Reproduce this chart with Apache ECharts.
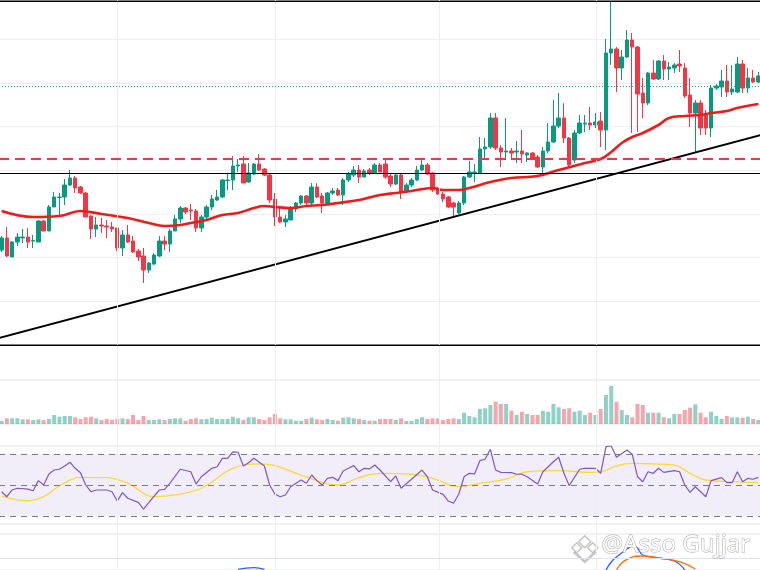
<!DOCTYPE html>
<html>
<head>
<meta charset="utf-8">
<style>
  html, body { margin: 0; padding: 0; background: #fff; }
  #chart { width: 760px; height: 570px; }
</style>
<script src="https://cdn.jsdelivr.net/npm/echarts@6/dist/echarts.min.js"></script>
</head>
<body>
<div id="chart"></div>
<script>
// price candles, [open, close, low, high]
const candles = [
  [95, 107, 93, 109], [107, 89, 88, 118], [88, 103, 88, 104], [103, 108, 99, 112], [107, 108, 102, 116],
  [108, 103, 97, 117], [104, 104.5, 97, 110], [103, 124, 103, 125], [124, 114, 114, 125], [114, 138, 114, 140],
  [138, 148, 138, 153], [147.5, 148, 129, 152], [148, 160, 140, 166], [160, 167, 159, 175], [167, 157, 152, 169],
  [158, 152, 151, 159], [152, 128, 128, 153], [129, 116, 106, 130], [116, 120, 108, 128], [120, 119, 112, 127],
  [119, 118, 107, 125], [118, 116, 113, 123], [117, 97, 94, 117], [97, 110, 89, 115], [110, 103, 102, 120],
  [104, 93, 92, 109], [94, 88, 84, 96], [89, 75, 62, 97], [75, 82, 72, 83], [81, 90, 80, 92],
  [89, 104, 88, 109], [104, 101, 95, 109], [101, 114, 93, 116], [114, 126, 114, 130], [126, 137, 122, 139],
  [137, 133, 131, 138], [135, 134, 125, 141], [134, 117, 113, 136], [117, 128, 113, 130], [128, 138, 125, 140],
  [138, 146, 135, 150], [145, 148, 144, 155], [148, 165, 147, 166], [164.5, 165, 155, 172], [165, 179, 155, 189],
  [179, 180, 173, 186], [181, 162, 162, 189], [163, 172, 162, 182], [171, 181, 170, 182], [181, 175, 174, 191],
  [176, 170, 169, 177], [170, 145, 142, 172], [146, 128, 119, 152], [128, 123, 122, 138], [123, 126, 118, 130],
  [125, 137, 125, 139], [136, 142, 133, 143], [142, 149, 140, 150], [149, 142, 140, 150], [142, 158, 140, 162],
  [158, 148, 147, 162], [149, 142, 132, 152], [142, 152, 140, 153], [152, 154, 150, 157], [155, 150, 149, 157],
  [150, 165, 140, 167], [165, 171, 163, 173], [170, 175, 168, 179], [175, 168, 162, 180], [168, 174, 168, 176],
  [175, 172, 170, 177], [172, 180, 171, 182], [180, 173, 173, 182], [181, 168, 166, 187], [169, 161, 158, 172],
  [161, 170, 160, 172], [170, 153, 146, 172], [153, 160, 152, 162], [160, 165, 158, 167], [165, 175, 164, 179],
  [175, 180, 174, 185], [180, 171, 170, 182], [172, 155, 153, 173], [155, 151, 150, 158], [151, 146, 143, 153],
  [148, 138, 137, 149], [142, 138, 127, 143], [132, 142, 131, 144], [142, 168, 140, 169], [168, 173, 167, 184],
  [172, 173, 163, 181], [172, 196, 172, 208], [196, 198, 187, 207], [198, 227, 196, 232], [227, 197, 195, 232],
  [197, 193, 178, 200], [193, 194, 185, 227], [194, 192, 185, 197], [193, 194, 182, 204], [194, 191, 182, 215],
  [190, 192, 183, 193], [192, 187, 185, 193], [188, 178, 177, 190], [178, 194, 170, 198], [194, 203, 192, 222],
  [203, 219, 202, 245], [219, 227, 217, 252], [227, 207, 202, 242], [207, 180, 178, 208], [185, 212, 182, 215],
  [212, 222, 211, 230], [221, 222, 213, 230], [222, 220, 215, 238], [220, 223, 217, 232], [224, 215, 198, 233],
  [215, 292, 195, 306], [292, 296, 280, 344], [296, 277, 253, 298], [277, 288, 265, 295], [288, 305, 287, 315],
  [305, 298, 212, 312], [298, 251, 213, 299], [252, 242, 227, 267], [242, 272, 240, 273], [272, 266, 265, 285],
  [266, 284, 265, 285], [284, 276, 265, 290], [276, 278, 265, 283], [277, 280, 272, 282], [281, 279, 273, 295],
  [277, 249, 247, 282], [250, 232, 218, 267], [232, 242, 192, 245], [242, 217, 210, 245], [230, 217, 210, 235],
  [217, 257, 208, 260], [257, 259, 255, 261], [258, 264, 248, 275], [264, 253, 248, 280], [253, 256, 250, 280],
  [253, 281, 252, 288], [281, 257, 252, 285], [257, 267, 252, 277], [267, 263, 262, 275], [263, 269, 262, 273],
];

const volumes = [
  30, 57, 57, 57, 47, 47, 40, 47, 40, 50, 90, 73, 80, 80, 67, 50, 67, 73, 57, 40,
  50, 40, 50, 57, 50, 90, 40, 80, 40, 40, 47, 40, 50, 57, 57, 33, 50, 57, 47, 50,
  63, 50, 50, 50, 73, 57, 40, 67, 67, 50, 40, 67, 100, 57, 47, 47, 33, 33, 50, 63,
  47, 40, 50, 40, 33, 63, 67, 57, 50, 40, 33, 33, 50,
  50, 50, 40, 57, 30, 30, 50, 67, 50, 57, 57, 40, 50, 57, 50, 113, 80, 67, 150, 157,
  190, 223, 200, 200, 133, 90, 123, 100, 90, 90, 133, 123, 200, 167, 150, 157, 123, 133, 90, 113,
  90, 150, 290, 380, 223, 140, 90, 67, 200, 190, 113, 113, 113, 67, 57, 100, 100, 140, 163, 197,
  113, 67, 123, 80, 50, 80, 67, 67, 63, 73, 50, 40,
];

// moving average, [candle index, price]
const maLine = [
  [0, 134], [6, 128], [11, 129], [15, 134], [19, 131], [24, 127], [28, 122], [31, 119], [34, 120], [36, 122],
  [39, 125], [42, 130], [45, 132], [48, 137], [50, 139], [52, 138], [55, 137], [58, 139], [61, 140], [64, 142],
  [68, 145], [72, 150], [75, 152], [78, 154], [82, 157], [84, 155], [87, 155], [89, 157], [91, 160], [93, 163],
  [97, 167], [102, 169], [106, 175], [111, 182], [114, 186], [116, 193], [118, 202], [120, 208], [122, 212],
  [125, 220], [127, 227], [130, 229], [133, 230], [135, 232], [138, 234], [140, 237], [144, 241],
];

const rsiLine = [
  [0, 45.7], [1, 42.5], [2, 46.8], [3, 47.9], [5, 47.4], [6, 46.3], [7, 52.8], [8, 50.0], [9, 57.1], [10, 59.6],
  [11, 60.1], [12, 62.2], [13, 64.6], [14, 60.7], [15, 57.9], [16, 50.0], [17, 45.7], [18, 46.8], [20, 46.8],
  [21, 45.7], [22, 39.7], [23, 45.1], [24, 41.5], [26, 38.9], [27, 34.6], [28, 38.7], [30, 46.8], [31, 47.2],
  [32, 51.1], [34, 60.1], [36, 58.5], [37, 50.6], [38, 55.3], [40, 60.7], [41, 61.7], [42, 67.1], [43, 67.1],
  [44, 71.2], [45, 71.0], [46, 62.2], [47, 64.3], [48, 67.1], [50, 62.2], [51, 50.0], [52, 44.2], [53, 42.5],
  [54, 43.6], [55, 48.9], [57, 53.2], [58, 51.1], [59, 56.4], [60, 52.8], [61, 50.0], [62, 54.3], [63, 54.9],
  [64, 52.8], [65, 59.0], [66, 60.7], [67, 62.4], [68, 58.5], [69, 60.7], [70, 60.3], [71, 62.8], [72, 59.6],
  [74, 52.1], [75, 55.8], [76, 47.9], [78, 53.7], [80, 59.6], [81, 55.3], [82, 46.8], [84, 44.0], [85, 39.7],
  [86, 38.3], [87, 44.2], [88, 55.3], [89, 57.5], [90, 57.1], [91, 65.6], [92, 66.5], [93, 72.9], [94, 59.6],
  [95, 58.1], [97, 57.9], [98, 56.9], [99, 56.9], [100, 55.3], [102, 50.6], [103, 58.5], [105, 64.9], [106, 67.8],
  [107, 57.5], [108, 49.6], [110, 60.1], [111, 60.7], [113, 60.7], [114, 57.5], [115, 74.6], [116, 75.0],
  [117, 67.8], [119, 72.4], [120, 69.7], [121, 55.3], [122, 52.1], [123, 58.5], [124, 57.5], [125, 60.7],
  [126, 58.1], [128, 59.2], [129, 58.5], [130, 50.0], [131, 45.3], [132, 48.9], [134, 42.5], [135, 52.8],
  [137, 54.7], [138, 51.5], [139, 51.5], [140, 58.5], [141, 52.1], [142, 54.3], [143, 53.7], [144, 54.9],
];

const rsiAvg = [
  [0, 42.9], [5, 39.9], [8, 42.5], [11, 49.4], [15, 54.9], [20, 54.7], [24, 51.1], [29, 42.5], [33, 43.6],
  [38, 47.9], [44, 60.7], [49, 63.5], [52, 62.4], [57, 56.4], [64, 50.0], [68, 54.7], [72, 57.5], [78, 56.9],
  [82, 54.3], [87, 48.9], [91, 51.1], [96, 53.7], [100, 58.5], [106, 59.2], [112, 58.1], [114, 58.5],
  [117, 62.2], [120, 63.9], [124, 63.5], [128, 62.8], [131, 57.5], [134, 53.2], [139, 52.1], [144, 51.5],
];

// only the tops of the macd curves show at the bottom edge
const macdLeft = [[45, 0.7], [48, 2.3], [50, 0.7]];
const macdRight = [[115, 0], [116, 8], [117, 13], [119, 21], [120, 24], [121, 22], [122, 15], [125, 12], [128, 9], [130, 0]];
const signalRight = [[117, 0], [119, 10.7], [122, 14], [125, 12], [129, 8.3], [132, 1]];

const trendLine = [[0, 7], [1, 210]];
const priceRange = [0, 344];
const resistance = 172;
const breakoutLevel = 186;
const lastPrice = 259;
const rsiLevels = [70, 50, 30];
const macdGridLevel = 12;
const vGridAt = [22.45, 52.5, 83.7, 113.6];
const watermark = "@Asso Gujjar";

const UP = "#089981";
const DOWN = "#f23645";
const GRID = "#eceef3";

const days = candles.map((c, i) => String(i + 1));

const volData = volumes.map(function (v, i) {
  const up = candles[i][1] >= candles[i][0];
  return {
    value: v,
    itemStyle: { color: up ? "rgba(8,153,129,0.45)" : "rgba(242,54,69,0.45)" },
  };
});

const hLine = (y, color, width, type) => ({
  yAxis: y,
  lineStyle: { color: color, width: width, type: type },
});

const chart = echarts.init(document.getElementById("chart"), null, { renderer: "canvas" });

const catAxis = (gi) => ({
  type: "category",
  gridIndex: gi,
  data: days,
  boundaryGap: true,
  show: false,
});

const pane = (top, height, border) => ({
  left: -1,
  right: -1,
  top: top,
  height: height,
  show: true,
  borderColor: border,
  borderWidth: 1,
  outerBoundsMode: "none",
});

const option = {
  animation: false,
  backgroundColor: "#fff",
  grid: [
    pane(1, 344, "#000"),
    pane(380, 44, "#e0e3eb"),
    pane(446, 78, "#e0e3eb"),
    pane(534, 36, "#e0e3eb"),
    { left: -1, right: -1, top: 0, bottom: 0, outerBoundsMode: "none" },
  ],
  xAxis: [
    catAxis(0),
    catAxis(1),
    catAxis(2),
    catAxis(3),
    { type: "value", gridIndex: 4, min: 0, max: 145, show: false },
    { type: "value", gridIndex: 0, min: 0, max: 1, show: false },
  ],
  yAxis: [
    {
      type: "value", gridIndex: 0, min: priceRange[0], max: priceRange[1], interval: 43.7,
      axisLabel: { show: false }, axisLine: { show: false }, axisTick: { show: false },
      splitLine: { showMinLine: false, showMaxLine: false, lineStyle: { color: GRID, width: 1 } },
    },
    { type: "value", gridIndex: 1, min: 0, max: 440, show: false },
    { type: "value", gridIndex: 2, min: 25, max: 75, show: false },
    { type: "value", gridIndex: 3, min: 0, max: 36, show: false },
    { type: "value", gridIndex: 4, min: 0, max: 1, show: false },
  ],
  series: [
    {
      // vertical time separators through every pane
      type: "line",
      xAxisIndex: 4,
      yAxisIndex: 4,
      data: [[0, -1]],
      showSymbol: false,
      lineStyle: { opacity: 0 },
      silent: true,
      z: 0,
      markLine: {
        silent: true,
        symbol: ["none", "none"],
        label: { show: false },
        lineStyle: { color: GRID, width: 1, type: "solid" },
        data: vGridAt.map((v) => ({ xAxis: v })),
      },
    },
    {
      type: "candlestick",
      name: "Price",
      xAxisIndex: 0,
      yAxisIndex: 0,
      data: candles,
      barWidth: 4,
      itemStyle: {
        color: UP,
        color0: DOWN,
        borderColor: UP,
        borderColor0: DOWN,
        borderWidth: 1,
      },
      markLine: {
        silent: true,
        symbol: ["none", "none"],
        label: { show: false },
        data: [
          hLine(priceRange[0], "#000", 1.2, "solid"),
          hLine(priceRange[1], "#000", 1.2, "solid"),
          hLine(resistance, "#000", 1, "solid"),
          hLine(breakoutLevel, "#f23645", 2, [10, 6]),
          hLine(lastPrice, "#22a195", 1, [1, 2]),
        ],
      },
    },
    {
      type: "line",
      name: "MA",
      xAxisIndex: 0,
      yAxisIndex: 0,
      data: maLine,
      smooth: 0.4,
      showSymbol: false,
      lineStyle: { color: "#ee1b1b", width: 2.6 },
      z: 3,
    },
    {
      type: "line",
      name: "Trend",
      xAxisIndex: 5,
      yAxisIndex: 0,
      data: trendLine,
      showSymbol: false,
      lineStyle: { color: "#000", width: 2 },
      z: 4,
    },
    {
      type: "bar",
      name: "Volume",
      xAxisIndex: 1,
      yAxisIndex: 1,
      data: volData,
      barWidth: 4,
    },
    {
      type: "line",
      name: "RSI",
      xAxisIndex: 2,
      yAxisIndex: 2,
      data: rsiLine,
      showSymbol: false,
      lineStyle: { color: "#7e57c2", width: 1.2 },
      z: 4,
      markArea: {
        silent: true,
        itemStyle: { color: "rgba(126,87,194,0.1)" },
        data: [[{ yAxis: rsiLevels[2] }, { yAxis: rsiLevels[0] }]],
      },
      markLine: {
        silent: true,
        symbol: ["none", "none"],
        label: { show: false },
        lineStyle: { color: "#787b86", width: 1, type: [6, 5] },
        data: rsiLevels.map((v) => ({ yAxis: v })),
      },
    },
    {
      type: "line",
      name: "RSI MA",
      xAxisIndex: 2,
      yAxisIndex: 2,
      data: rsiAvg,
      smooth: 0.4,
      showSymbol: false,
      lineStyle: { color: "#fdd835", width: 1.3 },
      z: 3,
    },
    {
      type: "line",
      xAxisIndex: 3,
      yAxisIndex: 3,
      data: macdLeft,
      smooth: true,
      showSymbol: false,
      lineStyle: { color: "#2962ff", width: 1.3 },
      markLine: {
        silent: true,
        symbol: ["none", "none"],
        label: { show: false },
        lineStyle: { color: "#e0e3eb", width: 1, type: "solid" },
        data: [{ yAxis: macdGridLevel }],
      },
    },
    {
      type: "line",
      xAxisIndex: 3,
      yAxisIndex: 3,
      data: macdRight,
      smooth: true,
      showSymbol: false,
      lineStyle: { color: "#2962ff", width: 1.3 },
    },
    {
      type: "line",
      xAxisIndex: 3,
      yAxisIndex: 3,
      data: signalRight,
      smooth: true,
      showSymbol: false,
      lineStyle: { color: "#ff6d00", width: 1.3 },
    },
  ],
  graphic: [
    {
      type: "group",
      left: 571,
      top: 535,
      children: [
        { type: "polygon", shape: { points: [[13, 0], [19, 6], [13, 12], [7, 6]] }, style: { fill: "#fff", stroke: "#c4c4c4", lineWidth: 1.5 } },
        { type: "polygon", shape: { points: [[5, 7], [10, 12], [5, 17], [0, 12]] }, style: { fill: "#fff", stroke: "#c4c4c4", lineWidth: 1.5 } },
        { type: "polygon", shape: { points: [[21, 7], [26, 12], [21, 17], [16, 12]] }, style: { fill: "#fff", stroke: "#c4c4c4", lineWidth: 1.5 } },
        { type: "polyline", shape: { points: [[2, 16], [13, 26], [24, 16]] }, style: { stroke: "#c4c4c4", lineWidth: 2.5, fill: null } },
      ],
    },
    {
      type: "text",
      left: 601,
      top: 533,
      style: {
        text: watermark,
        font: "24px 'Noto Sans', sans-serif",
        fill: "rgba(255,255,255,0.95)",
        stroke: "rgba(110,110,110,0.6)",
        lineWidth: 1,
        shadowColor: "rgba(0,0,0,0.3)",
        shadowBlur: 2,
        shadowOffsetX: 1,
        shadowOffsetY: 1,
      },
      z: 100,
    },
  ],
};

chart.setOption(option);
</script>
</body>
</html>
